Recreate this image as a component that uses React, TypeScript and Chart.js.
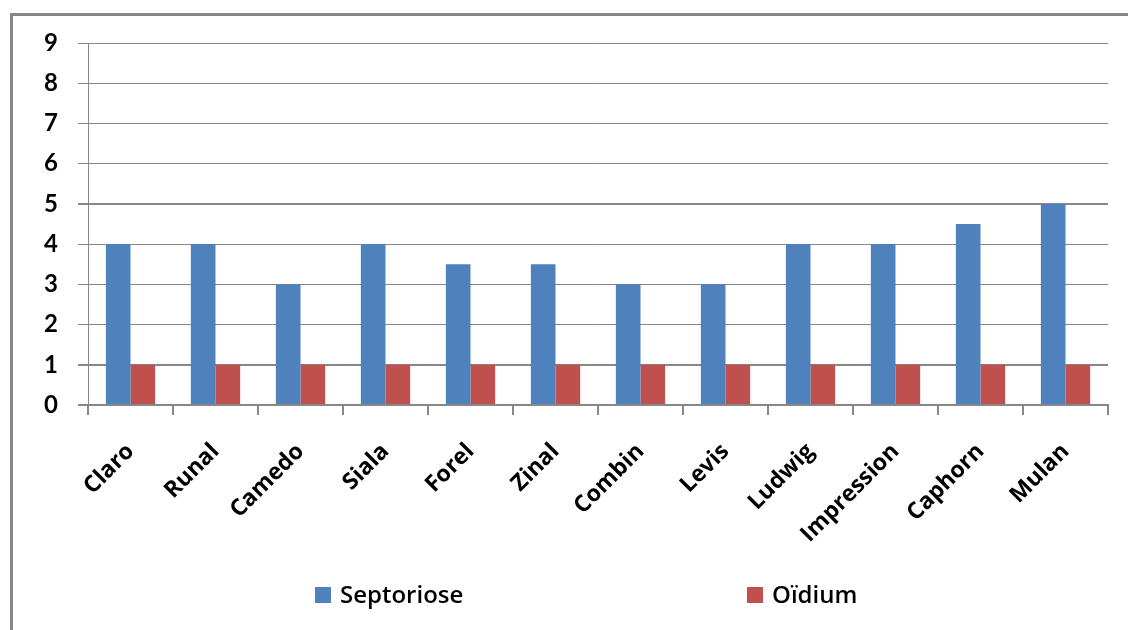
import React, { useEffect, useRef } from 'react';
import { Chart, registerables } from 'chart.js';

Chart.register(...registerables);

const categories = ['Claro', 'Runal', 'Camedo', 'Siala', 'Forel', 'Zinal', 'Combin', 'Levis', 'Ludwig', 'Impression', 'Caphorn', 'Mulan'];
const septoriose = [4, 4, 3, 4, 3.5, 3.5, 3, 3, 4, 4, 4.5, 5];
const oidium = [1, 1, 1, 1, 1, 1, 1, 1, 1, 1, 1, 1];
const seriesNames = ['Septoriose', 'Oïdium'];
const seriesColors = ['#4F81BD', '#C0504D'];
const yMin = 0;
const yMax = 9;
const yStep = 1;

const GRID = '#878787';
const FONT = 'Lato, "Open Sans", sans-serif';
const FONT2 = '"Open Sans", Lato, sans-serif';

const legendPlugin = {
  id: 'customLegend',
  afterDraw(chart: any) {
    const ctx = chart.ctx;
    const xs = [315, 747];
    const yc = 595;
    chart.data.datasets.forEach((ds: any, i: number) => {
      ctx.save();
      ctx.fillStyle = ds.backgroundColor;
      ctx.fillRect(xs[i], yc - 8, 16, 16);
      ctx.fillStyle = '#000';
      ctx.font = '600 24px ' + FONT2;
      ctx.textBaseline = 'middle';
      ctx.textAlign = 'left';
      ctx.fillText(ds.label, xs[i] + 25, yc + 1);
      ctx.restore();
    });
  },
};

export default function App() {
  const ref = useRef<HTMLCanvasElement | null>(null);

  useEffect(() => {
    if (!ref.current) return;
    const chart = new Chart(ref.current, {
      type: 'bar',
      data: {
        labels: categories,
        datasets: [
          { label: seriesNames[0], data: septoriose, backgroundColor: seriesColors[0], borderWidth: 0 },
          { label: seriesNames[1], data: oidium, backgroundColor: seriesColors[1], borderWidth: 0 },
        ],
      },
      options: {
        responsive: false,
        animation: false,
        devicePixelRatio: 1,
        layout: { padding: { left: 0, right: 20, top: 43, bottom: 0 } },
        datasets: { bar: { categoryPercentage: 0.58, barPercentage: 1.0 } },
        plugins: { legend: { display: false }, tooltip: { enabled: false } },
        scales: {
          x: {
            offset: true,
            grid: {
              offset: true,
              drawOnChartArea: false,
              drawTicks: true,
              tickLength: 10,
              color: GRID,
              lineWidth: 2,
            },
            border: { display: true, color: GRID, width: 2 },
            ticks: {
              autoSkip: false,
              maxRotation: 45,
              minRotation: 45,
              padding: 23,
              color: '#000',
              font: { family: FONT2, size: 23, weight: 'bold' },
            },
            afterFit: (scale: any) => { scale.height = 225; },
          },
          y: {
            min: yMin,
            max: yMax,
            ticks: {
              stepSize: yStep,
              padding: 20,
              color: '#000',
              font: { family: FONT, size: 24, weight: 'bold' },
            },
            grid: {
              color: GRID,
              tickLength: 10,
              drawTicks: true,
              lineWidth: (c: any) => (c.tick && (c.tick.value === 0 || c.tick.value === 1 || c.tick.value === 5) ? 2 : 1),
            },
            border: { display: true, color: GRID, width: 1 },
            afterFit: (scale: any) => { scale.width = 88; },
          },
        },
      },
      plugins: [legendPlugin],
    });
    return () => chart.destroy();
  }, []);

  return (
    <div style={{ position: 'fixed', left: 0, top: 0, width: 1128, height: 630, background: '#fff', overflow: 'hidden' }}>
      <div style={{ position: 'absolute', left: 10, top: 13, width: 1140, height: 640, border: '3px solid #868686', boxSizing: 'border-box' }} />
      <canvas ref={ref} width={1128} height={630} style={{ position: 'absolute', left: 0, top: 0, display: 'block' }} />
    </div>
  );
}
